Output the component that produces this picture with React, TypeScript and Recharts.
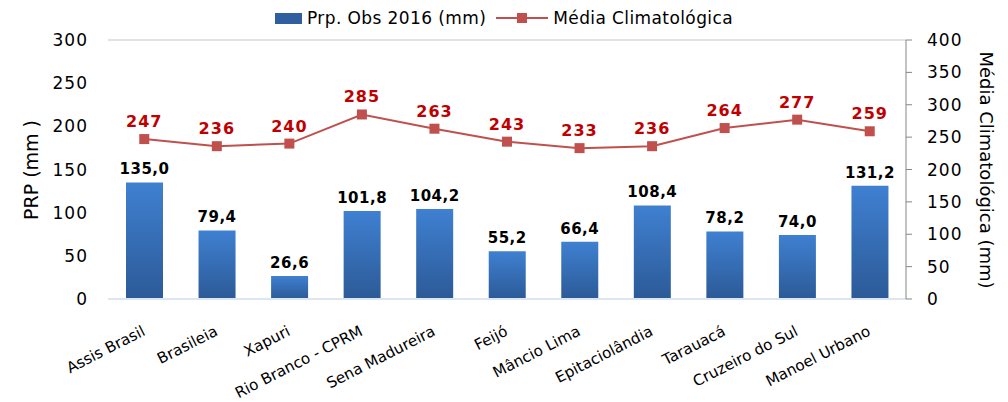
import {
  ComposedChart, Bar, Line, XAxis, YAxis, CartesianGrid, LabelList,
} from "recharts";

const stations = [
  "Assis Brasil", "Brasileia", "Xapuri", "Rio Branco - CPRM", "Sena Madureira",
  "Feijó", "Mâncio Lima", "Epitaciolândia", "Tarauacá", "Cruzeiro do Sul", "Manoel Urbano",
];
const obs2016 = [135.0, 79.4, 26.6, 101.8, 104.2, 55.2, 66.4, 108.4, 78.2, 74.0, 131.2];
const climatology = [247, 236, 240, 285, 263, 243, 233, 236, 264, 277, 259];
const leftTicks = [0, 50, 100, 150, 200, 250, 300];
const rightTicks = [0, 50, 100, 150, 200, 250, 300, 350, 400];

const data = stations.map((name, i) => ({ name, obs: obs2016[i], clim: climatology[i] }));

const FONT = "'DejaVu Sans', sans-serif";
const LINE_COLOR = "#C0504D";

const Square = (props: any) => {
  const { cx, cy, index } = props;
  if (cx == null || cy == null) return null;
  return <rect key={index} x={cx - 5} y={cy - 5} width={10} height={10} fill={LINE_COLOR} />;
};

const LeftTitle = () => (
  <text x={32} y={170} transform="rotate(-90 32 170)" textAnchor="middle" dominantBaseline="middle"
    fontSize={19} fontFamily={FONT} fill="#000">
    PRP (mm )
  </text>
);

const RightTitle = () => (
  <text x={985} y={170} transform="rotate(90 985 170)" textAnchor="middle" dominantBaseline="middle"
    fontSize={18} fontFamily={FONT} fill="#000">
    Média Climatológica (mm)
  </text>
);

function ChartLegend() {
  return (
    <div style={{ position: "absolute", top: 8, left: 0, width: 1008, display: "flex", justifyContent: "center",
      alignItems: "center", fontFamily: FONT, fontSize: 17, letterSpacing: 0.4, color: "#000" }}>
      <div style={{ width: 27, height: 11, background: "#2F5F9E", marginRight: 5 }} />
      <span>Prp. Obs 2016 (mm)</span>
      <svg width={56} height={14} style={{ marginLeft: 8, marginRight: 3 }}>
        <line x1={2} y1={7} x2={54} y2={7} stroke={LINE_COLOR} strokeWidth={2} />
        <rect x={23} y={2} width={10} height={10} fill={LINE_COLOR} />
      </svg>
      <span>Média Climatológica</span>
    </div>
  );
}

export default function App() {
  return (
    <div style={{ position: "absolute", top: 0, left: 0, width: 1008, height: 402, background: "#fff" }}>
      <ComposedChart width={1008} height={402} data={data} margin={{ top: 40, right: 0, bottom: 0, left: 0 }}>
        <defs>
          <linearGradient id="barGrad" x1="0" y1="0" x2="0" y2="1">
            <stop offset="0%" stopColor="#3F80D1" />
            <stop offset="100%" stopColor="#2C5A97" />
          </linearGradient>
        </defs>
        <CartesianGrid vertical={false} stroke="#D9D9D9" strokeWidth={1.3} />
        <XAxis dataKey="name" height={103} interval={0} angle={-27} textAnchor="end" tickLine={false}
          axisLine={{ stroke: "#DCE6F2", strokeWidth: 2 }} tickMargin={20}
          tick={{ fontSize: 15.2, fontFamily: FONT, fill: "#000", dx: -3 }} />
        <YAxis yAxisId="left" width={108} domain={[0, 300]} ticks={leftTicks} axisLine={false} tickLine={false}
          tickMargin={14} tick={{ fontSize: 17, fontFamily: FONT, fill: "#000", letterSpacing: 1 }} label={<LeftTitle />} />
        <YAxis yAxisId="right" orientation="right" width={102} domain={[0, 400]} ticks={rightTicks}
          axisLine={{ stroke: "#868686" }} tickLine={{ stroke: "#868686" }} tickSize={6} tickMargin={15}
          tick={{ fontSize: 17, fontFamily: FONT, fill: "#000", letterSpacing: 1 }} label={<RightTitle />} />
        <Bar yAxisId="left" dataKey="obs" fill="url(#barGrad)" barSize={37} isAnimationActive={false}>
          <LabelList dataKey="obs" position="top" offset={8}
            formatter={(v: any) => Number(v).toFixed(1).replace(".", ",")}
            style={{ fontSize: 15, fontWeight: "bold", fontFamily: FONT, fill: "#000", letterSpacing: 0.5 }} />
        </Bar>
        <Line yAxisId="right" dataKey="clim" stroke={LINE_COLOR} strokeWidth={2} dot={<Square />}
          activeDot={false} isAnimationActive={false}>
          <LabelList dataKey="clim" position="top" offset={12}
            style={{ fontSize: 16, fontWeight: "bold", fontFamily: FONT, fill: "#C00000", letterSpacing: 1 }} />
        </Line>
      </ComposedChart>
      <ChartLegend />
    </div>
  );
}
